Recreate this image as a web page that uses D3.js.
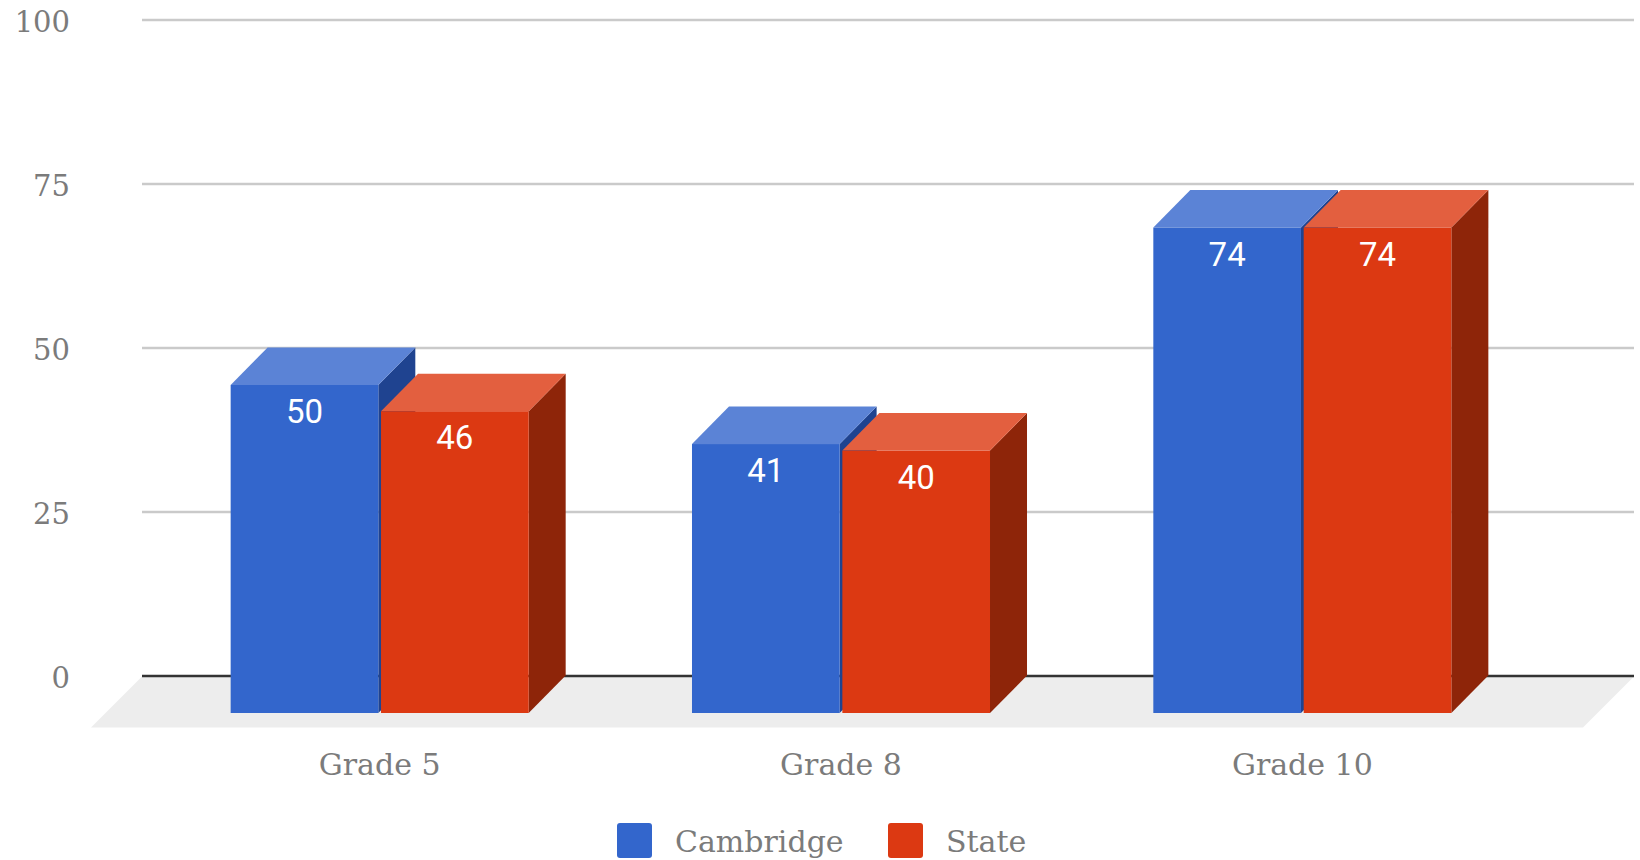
<!DOCTYPE html>
<html>
<head>
<meta charset="utf-8">
<script src="https://cdn.jsdelivr.net/npm/d3@7/dist/d3.min.js"></script>
<style>
  html, body { margin: 0; padding: 0; background: #fff; }
  svg { display: block; }
  .serif { font-family: "DejaVu Serif", "Liberation Serif", serif; fill: #7b7b7b; }
</style>
</head>
<body>
<svg id="chart" width="1640" height="860"></svg>
<script>
// Reading scores by grade
const grades = ["Grade 5", "Grade 8", "Grade 10"];
const seriesNames = ["Cambridge", "State"];
const cambridge = [50, 41, 74];
const state = [46, 40, 74];
const yTicks = [0, 25, 50, 75, 100];

const faceColors = {
  Cambridge: { front: "#3366cc", top: "#5b83d6", side: "#1f4390" },
  State: { front: "#dc3912", top: "#e35f3f", side: "#8e2509" }
};

const depthX = 37, depthY = 37.5;
const gridLeft = 142, gridRight = 1634;
const svg = d3.select("#chart");

const y = d3.scaleLinear().domain([0, 100]).range([675.5, 19.5]);
const x0 = d3.scaleBand().domain(grades).range([149, 1533]).paddingInner(0.354).paddingOuter(0.177);
const x1 = d3.scaleBand().domain(seriesNames).range([0, x0.bandwidth()]).paddingInner(0.018);

// Floor plane under the bars
const floorTop = y(0) + 1, floorBottom = y(0) + 52;
svg.append("polygon")
  .attr("points", [[gridLeft, floorTop], [gridRight, floorTop], [gridRight - 51, floorBottom], [gridLeft - 51, floorBottom]].join(" "))
  .attr("fill", "#ededed");

// Value axis with gridlines on the back wall
const yAxis = svg.append("g")
  .attr("transform", `translate(${gridLeft},0)`)
  .call(d3.axisLeft(y).tickValues(yTicks).tickSize(-(gridRight - gridLeft)).tickPadding(72));
yAxis.select(".domain").remove();
yAxis.selectAll(".tick line")
  .attr("stroke", d => d === 0 ? "#333333" : "#cacaca")
  .attr("stroke-width", d => d === 0 ? 2.6 : 2.6);
yAxis.selectAll(".tick text")
  .attr("class", "serif")
  .attr("font-size", 29)
  .attr("dy", "0.42em");

// Category axis
const xAxis = svg.append("g")
  .attr("transform", "translate(0,745)")
  .call(d3.axisBottom(x0).tickSize(0).tickPadding(0));
xAxis.select(".domain").remove();
xAxis.selectAll(".tick text")
  .attr("class", "serif")
  .attr("font-size", 30)
  .attr("y", 30)
  .attr("dy", 0);

// Extruded bars: each series paints over the side of the one before it
const rows = seriesNames.flatMap((name, s) => {
  const values = s === 0 ? cambridge : state;
  return grades.map((grade, i) => ({ name, grade, value: values[i] }));
});

const bars = svg.append("g").selectAll("g").data(rows).join("g");
const fx = d => x0(d.grade) + x1(d.name);
const fy = d => y(d.value) + depthY;
const bottom = y(0) + depthY;

bars.append("polygon")
  .attr("fill", d => faceColors[d.name].side)
  .attr("points", d => {
    const r = fx(d) + x1.bandwidth();
    return [[r, fy(d)], [r + depthX, fy(d) - depthY], [r + depthX, bottom - depthY], [r, bottom]].join(" ");
  });
bars.append("polygon")
  .attr("fill", d => faceColors[d.name].top)
  .attr("points", d => {
    const l = fx(d), r = l + x1.bandwidth();
    return [[l, fy(d)], [l + depthX, fy(d) - depthY], [r + depthX, fy(d) - depthY], [r, fy(d)]].join(" ");
  });
bars.append("rect")
  .attr("fill", d => faceColors[d.name].front)
  .attr("x", fx)
  .attr("y", fy)
  .attr("width", x1.bandwidth())
  .attr("height", d => bottom - fy(d));
bars.append("text")
  .attr("x", d => fx(d) + x1.bandwidth() / 2)
  .attr("y", d => fy(d) + 38)
  .attr("text-anchor", "middle")
  .attr("font-family", "Roboto, sans-serif")
  .attr("font-size", 33)
  .attr("fill", "#ffffff")
  .text(d => d.value);

// Legend
const legendItems = [
  { name: "Cambridge", box: 617, label: 675 },
  { name: "State", box: 888, label: 946 }
];
const legend = svg.append("g").selectAll("g").data(legendItems).join("g");
legend.append("rect")
  .attr("x", d => d.box).attr("y", 823)
  .attr("width", 35).attr("height", 35).attr("rx", 3)
  .attr("fill", d => faceColors[d.name].front);
legend.append("text")
  .attr("class", "serif")
  .attr("x", d => d.label).attr("y", 852)
  .attr("font-size", 30)
  .text(d => d.name);
</script>
</body>
</html>
